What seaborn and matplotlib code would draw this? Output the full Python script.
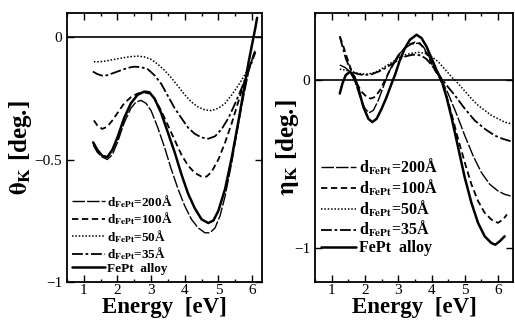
import numpy as np
import pandas as pd
import seaborn as sns
import matplotlib
matplotlib.use('Agg')
import matplotlib.pyplot as plt
from matplotlib.ticker import MultipleLocator, FixedLocator

# ---- data ----
# Kerr rotation theta_K [deg.]
th_e_200 = [1.28, 1.4, 1.55, 1.7, 1.85, 2.0, 2.2, 2.4, 2.55, 2.7, 2.85, 3.0, 3.2, 3.4, 3.6, 3.8, 4.0, 4.2, 4.4, 4.6, 4.75, 4.9, 5.05, 5.2, 5.4, 5.6, 5.75, 5.9, 6.0, 6.1]
th_v_200 = [-0.44, -0.47, -0.49, -0.50, -0.48, -0.43, -0.35, -0.29, -0.265, -0.258, -0.27, -0.30, -0.37, -0.45, -0.54, -0.62, -0.69, -0.745, -0.78, -0.80, -0.80, -0.78, -0.73, -0.65, -0.51, -0.35, -0.24, -0.14, -0.09, -0.05]

th_e_100 = [1.3, 1.4, 1.55, 1.7, 1.85, 2.0, 2.2, 2.4, 2.6, 2.8, 2.95, 3.1, 3.3, 3.5, 3.7, 3.9, 4.1, 4.3, 4.5, 4.65, 4.8, 5.0, 5.2, 5.4, 5.6, 5.8, 5.95, 6.1]
th_v_100 = [-0.34, -0.36, -0.375, -0.365, -0.34, -0.31, -0.27, -0.245, -0.23, -0.225, -0.23, -0.25, -0.30, -0.36, -0.42, -0.48, -0.525, -0.555, -0.57, -0.57, -0.55, -0.50, -0.43, -0.35, -0.26, -0.17, -0.11, -0.05]

th_e_50 = [1.3, 1.45, 1.6, 1.8, 2.0, 2.2, 2.4, 2.6, 2.8, 3.0, 3.2, 3.4, 3.6, 3.8, 4.0, 4.2, 4.4, 4.6, 4.8, 5.0, 5.2, 5.4, 5.6, 5.8, 5.95, 6.1]
th_v_50 = [-0.10, -0.10, -0.098, -0.093, -0.088, -0.083, -0.079, -0.077, -0.08, -0.09, -0.11, -0.135, -0.165, -0.20, -0.235, -0.265, -0.285, -0.297, -0.30, -0.29, -0.27, -0.235, -0.195, -0.15, -0.11, -0.06]

th_e_35 = [1.27, 1.4, 1.55, 1.7, 1.9, 2.1, 2.3, 2.5, 2.7, 2.9, 3.1, 3.3, 3.5, 3.7, 3.9, 4.1, 4.3, 4.5, 4.7, 4.9, 5.1, 5.3, 5.5, 5.7, 5.85, 6.0, 6.1]
th_v_35 = [-0.14, -0.15, -0.157, -0.155, -0.145, -0.135, -0.125, -0.12, -0.122, -0.13, -0.155, -0.19, -0.24, -0.29, -0.33, -0.37, -0.395, -0.41, -0.415, -0.405, -0.375, -0.33, -0.27, -0.205, -0.15, -0.10, -0.06]

th_e_alloy = [1.28, 1.4, 1.55, 1.7, 1.85, 2.0, 2.2, 2.4, 2.6, 2.8, 2.95, 3.1, 3.3, 3.5, 3.7, 3.9, 4.1, 4.3, 4.5, 4.7, 4.85, 5.0, 5.2, 5.4, 5.6, 5.75, 5.9, 6.0, 6.1, 6.15]
th_v_alloy = [-0.43, -0.46, -0.485, -0.49, -0.46, -0.41, -0.33, -0.27, -0.235, -0.222, -0.225, -0.25, -0.31, -0.39, -0.47, -0.56, -0.64, -0.70, -0.745, -0.76, -0.75, -0.71, -0.62, -0.49, -0.34, -0.22, -0.10, -0.03, 0.04, 0.08]

# Kerr ellipticity eta_K [deg.]
et_e_200 = [1.24, 1.4, 1.55, 1.7, 1.85, 2.0, 2.12, 2.25, 2.4, 2.55, 2.7, 2.85, 3.0, 3.2, 3.4, 3.6, 3.75, 3.9, 4.05, 4.2, 4.3, 4.5, 4.75, 5.0, 5.25, 5.5, 5.75, 6.0, 6.2, 6.38]
et_v_200 = [0.09, 0.075, 0.05, -0.01, -0.10, -0.17, -0.195, -0.18, -0.12, -0.04, 0.04, 0.10, 0.15, 0.19, 0.215, 0.22, 0.20, 0.15, 0.09, 0.03, 0.0, -0.08, -0.20, -0.33, -0.45, -0.55, -0.62, -0.66, -0.68, -0.69]

et_e_100 = [1.24, 1.35, 1.48, 1.6, 1.75, 1.9, 2.05, 2.17, 2.3, 2.45, 2.6, 2.75, 2.9, 3.1, 3.3, 3.5, 3.65, 3.8, 3.95, 4.1, 4.25, 4.4, 4.6, 4.8, 5.0, 5.2, 5.4, 5.6, 5.8, 6.0, 6.15, 6.27]
et_v_100 = [0.26, 0.20, 0.12, 0.05, -0.02, -0.07, -0.10, -0.11, -0.10, -0.06, 0.0, 0.06, 0.11, 0.17, 0.21, 0.225, 0.22, 0.18, 0.12, 0.06, 0.01, -0.06, -0.20, -0.35, -0.49, -0.62, -0.72, -0.79, -0.83, -0.85, -0.83, -0.80]

et_e_50 = [1.24, 1.4, 1.6, 1.8, 2.0, 2.2, 2.4, 2.6, 2.8, 3.0, 3.2, 3.4, 3.6, 3.8, 4.0, 4.2, 4.4, 4.6, 4.8, 5.0, 5.2, 5.4, 5.6, 5.8, 6.0, 6.2, 6.4]
et_v_50 = [0.065, 0.06, 0.05, 0.04, 0.035, 0.04, 0.055, 0.08, 0.105, 0.13, 0.15, 0.16, 0.165, 0.16, 0.14, 0.11, 0.065, 0.02, -0.02, -0.065, -0.11, -0.15, -0.18, -0.21, -0.23, -0.25, -0.26]

et_e_35 = [1.24, 1.32, 1.42, 1.52, 1.65, 1.8, 2.0, 2.2, 2.4, 2.6, 2.8, 3.0, 3.2, 3.4, 3.55, 3.7, 3.85, 4.0, 4.15, 4.3, 4.45, 4.7, 5.0, 5.3, 5.6, 5.9, 6.15, 6.4]
et_v_35 = [0.26, 0.20, 0.13, 0.08, 0.045, 0.035, 0.03, 0.035, 0.05, 0.07, 0.095, 0.12, 0.14, 0.15, 0.152, 0.145, 0.125, 0.09, 0.05, 0.01, -0.03, -0.09, -0.17, -0.24, -0.29, -0.33, -0.35, -0.365]

et_e_alloy = [1.24, 1.32, 1.42, 1.55, 1.68, 1.8, 1.95, 2.1, 2.22, 2.35, 2.5, 2.65, 2.8, 2.9, 3.05, 3.2, 3.35, 3.55, 3.7, 3.85, 4.0, 4.15, 4.3, 4.45, 4.6, 4.8, 5.0, 5.2, 5.4, 5.6, 5.8, 5.92, 6.05, 6.2]
et_v_alloy = [-0.08, -0.02, 0.03, 0.05, 0.02, -0.05, -0.16, -0.23, -0.25, -0.23, -0.17, -0.10, -0.02, 0.03, 0.12, 0.19, 0.24, 0.27, 0.25, 0.20, 0.13, 0.06, 0.0, -0.10, -0.22, -0.40, -0.58, -0.73, -0.85, -0.93, -0.97, -0.98, -0.96, -0.93]

labels = [r'd$_{\mathbf{FePt}}$=200Å', r'd$_{\mathbf{FePt}}$=100Å', r'd$_{\mathbf{FePt}}$=50Å', r'd$_{\mathbf{FePt}}$=35Å', 'FePt  alloy']
styles = [((0, (9, 1.5)), 1.0), ((0, (3.5, 2)), 1.3), ((0, (1, 1.2)), 1.1), ((0, (6, 1.5, 1.5, 1.5)), 1.3), ('-', 1.8)]

theta = [(th_e_200, th_v_200), (th_e_100, th_v_100), (th_e_50, th_v_50), (th_e_35, th_v_35), (th_e_alloy, th_v_alloy)]
eta = [(et_e_200, et_v_200), (et_e_100, et_v_100), (et_e_50, et_v_50), (et_e_35, et_v_35), (et_e_alloy, et_v_alloy)]

sns.set_style('ticks')
plt.rcParams['font.family'] = ['Liberation Serif', 'DejaVu Serif']
plt.rcParams['mathtext.fontset'] = 'stix'
for k in ['text.color', 'axes.labelcolor', 'xtick.color', 'ytick.color', 'axes.edgecolor']:
    plt.rcParams[k] = 'black'

fig = plt.figure(figsize=(5.15, 3.23), dpi=100)
ax1 = fig.add_axes([0.130, 0.128, 0.379, 0.832])
ax2 = fig.add_axes([0.612, 0.128, 0.384, 0.832])

for ax, curves in [(ax1, theta), (ax2, eta)]:
    for (e, v), lab, (ls, lw) in zip(curves, labels, styles):
        df = pd.DataFrame({'E': e, 'v': v})
        sns.lineplot(data=df, x='E', y='v', ax=ax, color='black', linestyle=ls, linewidth=lw,
                     label=lab, estimator=None, sort=False)
    ax.axhline(0, color='black', lw=1.2)
    ax.xaxis.set_major_locator(FixedLocator([1, 2, 3, 4, 5, 6]))
    ax.xaxis.set_minor_locator(MultipleLocator(0.5))
    ax.tick_params(which='both', direction='in', top=True, right=True, labelsize=11, color='black', width=1)
    ax.tick_params(which='major', length=5)
    ax.tick_params(which='minor', length=2.5)
    ax.tick_params(axis='x', pad=1.5)
    for s in ax.spines.values():
        s.set_linewidth(1.3)
        s.set_color('black')
    ax.set_xlabel('Energy  [eV]', fontsize=16.5, fontweight='bold', labelpad=0.5)

ax1.set_xlim(0.5, 6.3)
ax1.set_ylim(-1.0, 0.1)
ax1.set_yticks([-1, -0.5, 0])
ax1.set_yticklabels(['\u22121', '\u22120.5', '0'])
ax1.set_ylabel(r'$\mathbf{\theta_K}$ [deg.]', fontsize=18, fontweight='bold')
ax1.yaxis.set_label_coords(-0.17, 0.5)
ax1.legend(loc='lower left', bbox_to_anchor=(-0.01, 0.0), frameon=False, fontsize=9.5,
           handlelength=2.5, handletextpad=0.15, labelspacing=0.05, borderpad=0.0)

ax2.set_xlim(0.5, 6.45)
ax2.set_ylim(-1.2, 0.4)
ax2.set_yticks([-1, 0])
ax2.set_yticklabels(['\u22121', '0'])
ax2.set_ylabel(r'$\mathbf{\eta_K}$ [deg.]', fontsize=18, fontweight='bold')
ax2.yaxis.set_label_coords(-0.07, 0.5)
ax2.legend(loc='lower left', bbox_to_anchor=(-0.01, 0.065), frameon=False, fontsize=11.5,
           handlelength=2.2, handletextpad=0.15, labelspacing=0.05, borderpad=0.0)

for t in ax1.get_legend().get_texts() + ax2.get_legend().get_texts():
    t.set_fontweight('bold')

plt.savefig('out.png', dpi=100)
